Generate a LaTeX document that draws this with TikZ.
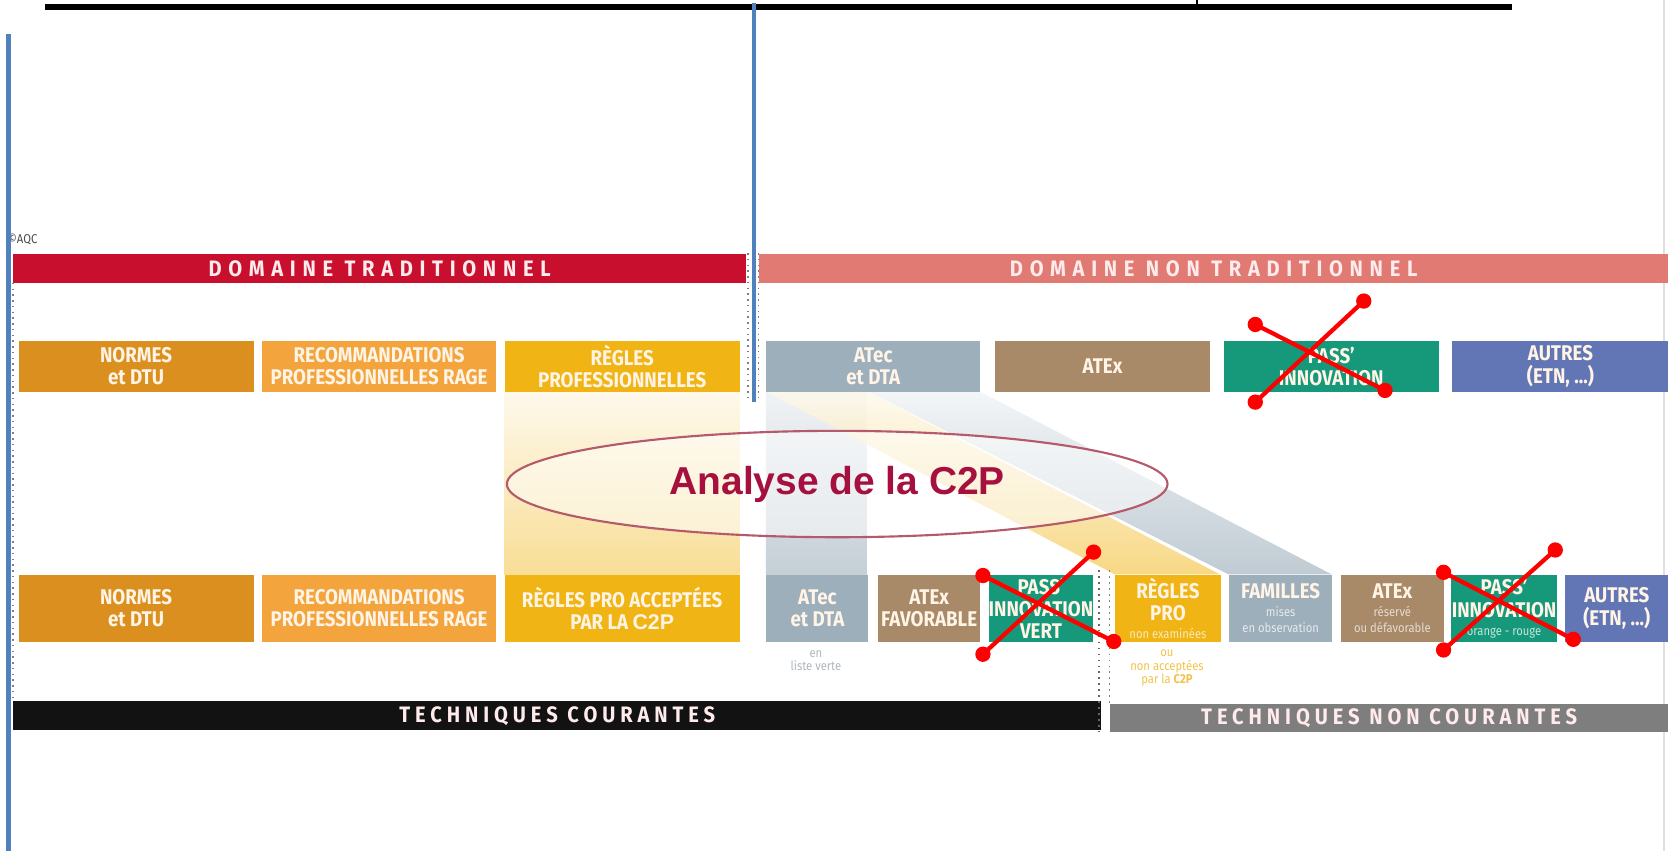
\documentclass[tikz,border=0pt]{standalone}
\usepackage{fontspec}
\setmainfont{Fira Sans}
\newfontfamily\boxfont[FakeStretch=0.88]{Fira Sans}
\newfontfamily\bandfont[LetterSpace=30,FakeStretch=0.9]{Fira Sans}
\newfontfamily\techfont[LetterSpace=22,FakeStretch=0.9]{Fira Sans}
\newfontfamily\titlefont{Liberation Sans}
\usetikzlibrary{shapes.geometric}
\definecolor{ochre}{HTML}{DA8F1E}
\definecolor{orangel}{HTML}{F3A43C}
\definecolor{yel}{HTML}{F0B414}
\definecolor{atec}{HTML}{9DAFBB}
\definecolor{atex}{HTML}{A98A68}
\definecolor{pass}{HTML}{16997A}
\definecolor{autres}{HTML}{6276B5}
\definecolor{tradred}{HTML}{C8102E}
\definecolor{nontrad}{HTML}{E07A72}
\definecolor{courant}{HTML}{121212}
\definecolor{noncourant}{HTML}{7E7E7E}
\definecolor{c2pred}{HTML}{A5103E}
\definecolor{ringred}{HTML}{B45A6C}
\definecolor{slideblue}{HTML}{4F81BD}
\definecolor{boxtxt}{HTML}{FFF4E6}
\definecolor{noteyel}{HTML}{F2C24A}
\definecolor{notegrey}{HTML}{AEB7BD}
\newcommand\smallf{\fontsize{6}{6.5}\selectfont\mdseries}
\newcommand\boxsize{\fontsize{10}{10.5}\selectfont}

\begin{document}
\begin{tikzpicture}[x=0.5pt,y=-0.5pt,
  box/.style={fill=#1,text=boxtxt,font=\boxfont\bfseries\boxsize,align=center,inner sep=0pt,anchor=north west},
  rowa/.style={box=#1,minimum height=24pt},
  rowb/.style={box=#1,minimum height=31.5pt},
  boxw/.style={minimum width=#1*0.5pt},
  band/.style={fill=#1,text=white!92!red,font=\bandfont\bfseries\fontsize{10.5}{11}\selectfont,inner sep=0pt,anchor=north west,minimum height=14pt},
  tech/.style={band=#1,font=\techfont\bfseries\fontsize{10.5}{11}\selectfont,minimum height=13.5pt},
  note/.style={font=\boxfont\smallf,align=center,inner sep=0pt},
  cross/.style={red,line width=2pt,line cap=round}]
\useasboundingbox (0,0) rectangle (1568,800);

\draw[line width=2.6pt] (42,6.5) -- (1421,6.5);
\draw[line width=1pt] (1125,0) -- (1125,7);
\draw[gray!25,line width=0.8pt] (1564,0) -- (1564,800);

\node[anchor=west,inner sep=0pt,font=\boxfont\fontsize{6}{6}\selectfont,text=black!70] (aqc) at (7,225) {©AQC};

\node[band=tradred,boxw=689] (d1) at (12,238) {DOMAINE TRADITIONNEL};
\node[band=nontrad,boxw=855] (d2) at (713,238) {DOMAINE NON TRADITIONNEL};

\shade[top color=yel!8,bottom color=yel!45] (474,368) rectangle (695,540);
\shade[top color=atec!15,bottom color=atec!60] (720,368) rectangle (815,540);
\shade[top color=atec!12,bottom color=atec!65] (816,368) -- (921,368) -- (1252,540) -- (1155,540) -- cycle;
\shade[top color=yel!8,bottom color=yel!65,opacity=.8] (720,368) -- (815,368) -- (1147,540) -- (1048,540) -- cycle;

\node[rowa=ochre,boxw=221] (t1) at (17,320) {NORMES\\et DTU};
\node[rowa=orangel,boxw=220] (t2) at (246,320) {RECOMMANDATIONS\\PROFESSIONNELLES RAGE};
\node[rowa=yel,boxw=221] (t3) at (474,320) {RÈGLES\\PROFESSIONNELLES};
\node[rowa=atec,boxw=201] (t4) at (720,320) {ATec\\et DTA};
\node[rowa=atex,boxw=202] (t5) at (935,320) {ATEx};
\node[rowa=pass,boxw=202] (t6) at (1150,320) {PASS’\\INNOVATION};
\node[rowa=autres,boxw=203] (t7) at (1365,320) {AUTRES\\(ETN, ...)};

\node[ellipse,draw=ringred,line width=1pt,fill=white,fill opacity=.5,text opacity=1,
  minimum width=310.5pt,minimum height=50pt,inner sep=0pt,text=c2pred,
  font=\titlefont\bfseries\fontsize{18.3}{20}\selectfont] (c2p) at (787,455) {Analyse de la C2P};

\node[rowb=ochre,boxw=221] (b1) at (17,540) {NORMES\\et DTU};
\node[rowb=orangel,boxw=220] (b2) at (246,540) {RECOMMANDATIONS\\PROFESSIONNELLES RAGE};
\node[rowb=yel,boxw=221] (b3) at (474,540) {RÈGLES PRO ACCEPTÉES\\PAR LA {\titlefont\bfseries C2P}};
\node[rowb=atec,boxw=96] (b4) at (720,540) {ATec\\et DTA};
\node[rowb=atex,boxw=96] (b5) at (825,540) {ATEx\\FAVORABLE};
\node[rowb=pass,boxw=98] (b6) at (929,540) {PASS’\\INNOVATION\\VERT};
\node[rowb=yel,boxw=99] (b7) at (1048,540) {RÈGLES\\PRO\\[-2pt]{\smallf\color{yel!30} non examinées}};
\node[rowb=atec,boxw=97] (b8) at (1155,540) {FAMILLES\\[-2pt]{\smallf\color{atec!25} mises}\\[-3pt]{\smallf\color{atec!25} en observation}};
\node[rowb=atex,boxw=97] (b9) at (1260,540) {ATEx\\[-2pt]{\smallf\color{atex!30} réservé}\\[-3pt]{\smallf\color{atex!30} ou défavorable}};
\node[rowb=pass,boxw=99] (b10) at (1364,540) {PASS’\\INNOVATION\\[-2pt]{\smallf\color{pass!25} orange - rouge}};
\node[rowb=autres,boxw=97] (b11) at (1471,540) {AUTRES\\(ETN, ...)};

\node[note,text=notegrey] (n1) at (767,621) {en\\liste verte};
\node[note,text=noteyel] (n2) at (1097,628) {ou\\non acceptées\\par la \textbf{C2P}};

\node[tech=courant,boxw=1023] (c1) at (12,659) {TECHNIQUES COURANTES};
\node[tech=noncourant,boxw=525] (c2) at (1043,661) {TECHNIQUES NON COURANTES};

\draw[gray,dotted,line width=0.7pt] (703,238) -- (703,378);
\draw[gray,dotted,line width=0.7pt] (713,238) -- (713,378);
\draw[gray,dotted,line width=0.7pt] (12,266) -- (12,658);
\draw[gray!80!black,dotted,line width=0.8pt] (1033,536) -- (1033,688);
\draw[gray,dotted,line width=0.8pt] (1043,536) -- (1043,661);

\draw[slideblue,line width=2pt] (709,3) -- (709,378);
\draw[slideblue,line width=2pt] (8,32) -- (8,800);

\coordinate (k1a) at (1180,305);
\coordinate (k1b) at (1302,367);
\coordinate (k1c) at (1180,378);
\coordinate (k1d) at (1282,283);
\coordinate (k2a) at (924,541);
\coordinate (k2b) at (1047,603);
\coordinate (k2c) at (924,615);
\coordinate (k2d) at (1028,519);
\coordinate (k3a) at (1357,538);
\coordinate (k3b) at (1479,601);
\coordinate (k3c) at (1357,611);
\coordinate (k3d) at (1462,517);
\foreach \k in {k1,k2,k3}{
  \draw[cross] (\k a) -- (\k b);
  \draw[cross] (\k c) -- (\k d);
}
\foreach \p in {k1a,k1b,k1c,k1d,k2a,k2b,k2c,k2d,k3a,k3b,k3c,k3d}
  \fill[red] (\p) circle (3.6pt);
\end{tikzpicture}
\end{document}
